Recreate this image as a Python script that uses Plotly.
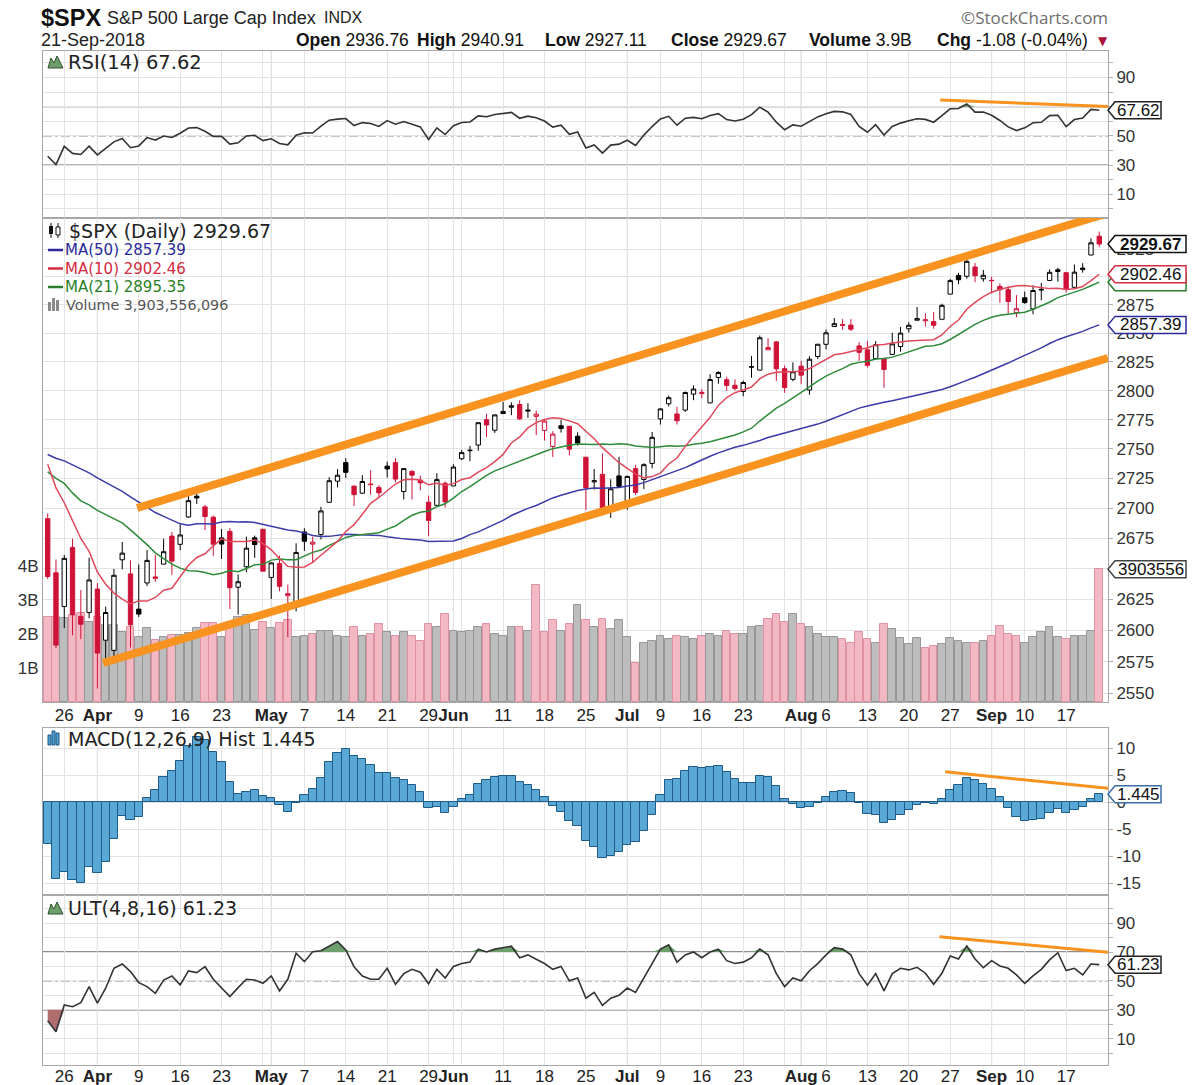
import numpy as np
import pandas as pd
import plotly.graph_objects as go

# ---------------------------------------------------------------- data
holidays = ["2018-03-30", "2018-05-28", "2018-07-04", "2018-09-03"]
dates = [d for d in pd.bdate_range("2018-03-22", "2018-09-21")
         if d.strftime("%Y-%m-%d") not in holidays]

# closes before the visible window (used only for the moving averages / RSI / MACD)
pre_closes = [
    2695.81, 2713.06, 2723.99, 2743.15, 2747.71, 2751.29, 2748.23, 2767.56, 2786.24, 2776.42,
    2802.56, 2798.03, 2810.30, 2832.97, 2839.13, 2837.54, 2839.25, 2872.87, 2853.53, 2822.43,
    2823.81,
    2821.98, 2762.13, 2648.94, 2695.14, 2681.66, 2581.00, 2619.55, 2656.00, 2662.94, 2698.63,
    2731.20, 2732.22, 2716.26, 2701.33, 2703.96, 2747.30, 2779.60, 2744.28, 2713.83,
    2677.67, 2691.25, 2720.94, 2728.12, 2726.80, 2738.97, 2786.57, 2783.02, 2765.31, 2749.48,
    2747.33, 2752.01, 2712.92, 2716.94, 2711.93]

opens = [
    2691.36, 2646.71, 2619.35, 2667.57, 2611.30, 2614.41,
    2633.45, 2592.17, 2584.04, 2657.36, 2645.82, 2617.18, 2638.41, 2643.36, 2653.83, 2676.90,
    2670.10, 2692.74, 2710.11, 2701.16, 2692.56, 2675.40, 2680.80, 2634.92, 2651.65, 2675.47, 2682.51,
    2642.96, 2654.24, 2628.08, 2621.45, 2680.34, 2670.26, 2678.12, 2705.02, 2722.70, 2738.47,
    2718.59, 2712.62, 2719.71, 2717.35, 2735.39, 2738.34, 2713.98, 2730.94, 2723.60, 2705.11,
    2702.43, 2720.98,
    2718.70, 2741.67, 2748.46, 2753.25, 2774.84, 2765.84, 2780.18, 2785.60, 2787.94, 2783.21,
    2777.78, 2765.79, 2752.01, 2769.73, 2769.28, 2760.79, 2742.94, 2722.12, 2728.45, 2698.69, 2727.13,
    2704.95, 2733.27, 2724.19, 2737.68, 2775.62, 2788.56, 2779.82, 2783.14, 2796.93, 2797.36,
    2789.34, 2811.35, 2809.37, 2804.55, 2799.17, 2820.68, 2817.73, 2835.49, 2842.35, 2819.00, 2809.73,
    2821.17, 2800.48, 2829.62, 2840.29, 2855.92, 2856.79, 2857.19, 2838.90, 2835.46, 2827.88,
    2827.95, 2831.44, 2838.32, 2853.93, 2861.51, 2860.99, 2860.29, 2862.35, 2884.69, 2901.45,
    2900.62, 2908.94, 2898.37,
    2896.96, 2891.59, 2888.64, 2868.26, 2881.39, 2871.57, 2888.29, 2896.85, 2906.38, 2903.83,
    2890.74, 2906.60, 2919.73, 2936.76]
highs = [
    2695.68, 2657.67, 2661.36, 2674.78, 2632.65, 2659.07,
    2638.30, 2619.14, 2649.86, 2672.08, 2656.88, 2653.55, 2665.45, 2661.43, 2674.72, 2680.26,
    2686.49, 2713.34, 2717.49, 2702.84, 2693.94, 2682.86, 2683.55, 2645.30, 2676.48, 2677.35, 2682.87,
    2655.27, 2660.87, 2637.14, 2670.93, 2683.35, 2676.34, 2701.27, 2726.11, 2732.86, 2742.10,
    2718.59, 2727.76, 2731.96, 2719.50, 2739.19, 2742.24, 2733.33, 2731.97, 2727.36, 2710.67,
    2729.34, 2722.50,
    2736.93, 2749.16, 2752.61, 2772.39, 2779.90, 2779.39, 2790.21, 2789.80, 2791.47, 2789.06,
    2782.81, 2774.99, 2765.05, 2774.86, 2769.28, 2764.17, 2742.94, 2732.91, 2746.09, 2724.34, 2743.26,
    2727.26, 2736.58, 2737.83, 2764.41, 2784.65, 2795.58, 2785.91, 2799.22, 2804.53, 2801.19,
    2814.19, 2816.76, 2812.05, 2809.70, 2808.61, 2829.99, 2848.03, 2845.57, 2843.17, 2821.74, 2824.46,
    2825.83, 2829.91, 2840.38, 2853.29, 2863.43, 2862.44, 2862.48, 2842.20, 2843.40, 2843.11,
    2827.95, 2850.49, 2855.63, 2859.76, 2873.23, 2867.54, 2868.78, 2876.16, 2898.25, 2903.77,
    2916.50, 2912.46, 2906.32,
    2900.18, 2894.21, 2892.05, 2883.81, 2886.93, 2892.52, 2894.65, 2906.76, 2908.30, 2904.65,
    2911.17, 2912.36, 2934.80, 2940.91]
lows = [
    2641.59, 2585.89, 2601.81, 2596.12, 2593.06, 2609.72,
    2553.80, 2574.49, 2573.61, 2649.58, 2586.27, 2610.79, 2635.78, 2639.25, 2653.83, 2645.05,
    2665.16, 2692.05, 2703.63, 2681.90, 2660.61, 2657.99, 2617.32, 2612.67, 2647.16, 2659.01, 2648.04,
    2625.41, 2631.70, 2594.62, 2615.32, 2664.70, 2655.20, 2674.14, 2704.54, 2717.45, 2725.47,
    2701.91, 2712.17, 2711.36, 2709.18, 2725.70, 2721.88, 2707.38, 2707.38, 2714.99, 2676.81,
    2702.43, 2700.68,
    2718.70, 2740.54, 2739.51, 2748.46, 2760.16, 2763.59, 2780.17, 2778.78, 2774.65, 2776.52,
    2761.73, 2757.12, 2743.19, 2763.91, 2744.39, 2752.68, 2698.67, 2715.60, 2699.38, 2691.99, 2718.03,
    2698.95, 2711.16, 2716.02, 2733.52, 2770.73, 2786.24, 2770.77, 2781.53, 2791.69, 2793.39,
    2789.24, 2805.89, 2799.77, 2800.01, 2795.14, 2811.12, 2817.73, 2835.26, 2808.34, 2798.11, 2808.06,
    2805.85, 2796.34, 2827.37, 2835.98, 2855.92, 2853.09, 2851.98, 2825.81, 2819.88, 2826.58,
    2802.49, 2831.44, 2833.73, 2850.62, 2861.32, 2856.05, 2854.03, 2862.35, 2884.69, 2893.50,
    2898.40, 2895.22, 2895.77,
    2885.13, 2876.92, 2867.29, 2864.12, 2875.94, 2866.78, 2879.20, 2896.39, 2895.77, 2886.16,
    2890.43, 2903.82, 2919.73, 2927.11]
closes = [
    2643.69, 2588.26, 2658.55, 2612.62, 2605.00, 2640.87,
    2581.88, 2614.45, 2644.69, 2662.84, 2604.47, 2613.16, 2656.87, 2642.19, 2663.99, 2656.30,
    2677.84, 2706.39, 2708.64, 2693.13, 2670.14, 2670.29, 2634.56, 2639.40, 2666.94, 2669.91, 2648.05,
    2654.80, 2635.67, 2629.73, 2663.42, 2672.63, 2671.92, 2697.79, 2723.07, 2727.72, 2730.13,
    2711.45, 2722.46, 2720.13, 2712.97, 2733.01, 2724.44, 2733.29, 2727.76, 2721.33, 2689.86,
    2724.01, 2705.27,
    2734.62, 2746.87, 2748.80, 2772.35, 2770.37, 2779.03, 2782.00, 2786.85, 2775.63, 2782.49,
    2779.66, 2773.75, 2762.59, 2767.32, 2749.76, 2754.88, 2717.07, 2723.06, 2699.63, 2716.31, 2718.37,
    2726.71, 2713.22, 2736.61, 2759.82, 2784.17, 2793.84, 2774.02, 2798.29, 2801.31, 2798.43,
    2809.55, 2815.62, 2804.49, 2801.83, 2806.98, 2820.40, 2846.07, 2837.44, 2818.82, 2802.60, 2816.29,
    2813.36, 2827.22, 2840.35, 2850.40, 2858.45, 2857.70, 2853.58, 2833.28, 2821.93, 2839.96,
    2818.37, 2840.69, 2850.13, 2857.05, 2862.96, 2861.82, 2856.98, 2874.69, 2896.74, 2897.52,
    2914.04, 2901.13, 2901.52,
    2896.72, 2888.60, 2878.05, 2871.68, 2877.13, 2887.89, 2888.92, 2904.18, 2904.98, 2888.80,
    2904.31, 2907.95, 2930.75, 2929.67]

volume_b = [
    2.51, 2.50, 2.46, 2.56, 2.61, 2.36, 2.51, 2.26, 2.26, 2.07, 2.21, 1.92, 2.17, 1.82, 1.92,
    1.97, 1.97, 2.02, 2.17, 2.31, 2.31, 1.92, 2.36, 2.51, 2.56, 2.12, 2.36, 2.17, 2.31, 2.41, 1.92,
    1.95, 2.0, 2.1, 2.1, 1.95, 1.9, 2.2, 1.95, 2.0, 2.3, 2.05, 1.95, 2.05, 1.95, 1.8, 2.3, 2.2,
    2.6, 2.1, 2.05, 2.1, 2.2, 2.3, 2.0, 1.95, 2.2, 2.2, 2.1, 3.45, 2.05, 2.4, 2.1, 2.3, 2.85,
    2.4, 2.2, 2.45, 2.15, 2.4, 1.9, 1.15, 1.75, 1.8, 1.95, 1.85, 1.95, 1.9, 1.85, 1.95, 2.0,
    1.95, 2.1, 2.0, 2.0, 2.2, 2.25, 2.45, 2.6, 2.35, 2.6, 2.3, 2.2, 2.0, 1.9, 1.9, 1.85, 1.75,
    2.05, 1.85, 1.75, 2.3, 2.15,
    1.87, 1.71, 1.89, 1.58, 1.65, 1.70, 1.89, 1.79, 1.74, 1.74, 1.79, 1.95, 2.24, 2.00, 1.95,
    1.74, 1.90, 2.05, 2.20, 1.90, 1.84, 1.94, 1.94, 2.10, 3.9036]

ult = [
    22.4, 14.8, 33.3, 32.1, 34.9, 46.0, 34.5, 44.9, 58.7, 61.7, 56.4, 48.8, 46.0, 41.4, 50.6,
    53.4, 47.2, 56.9, 55.7, 59.8, 51.1, 44.9, 39.1, 45.3, 51.1, 50.6, 48.3, 53.4, 43.0, 51.1,
    69.1, 63.3, 70.2, 70.9, 74.2, 77.2, 71.4, 59.8, 53.4, 51.1, 51.1, 58.7, 47.6,
    55, 58, 56, 48, 58, 52, 60, 62, 63, 72, 70, 72, 73, 74, 66, 68, 65, 62, 58, 60, 50, 52,
    38, 42, 33, 38, 40, 45, 42, 52, 62, 72, 75, 63, 68, 70, 66, 70, 72, 64, 62, 63, 66, 72,
    68, 55, 46, 52, 50, 57, 62, 68, 73, 72, 68, 55, 47, 55, 43, 55,
    58.7, 57.6, 59.4, 55.3, 47.6, 55.3, 67.3, 65.2, 74.2, 65.2, 59.1, 64.0, 60.3, 58.7, 54.1,
    48.3, 53.4, 58.0, 64.5, 69.5, 57.1, 58.7, 54.1, 61.7, 61.23]

# hand-drawn trend lines (index position, value)
chan_upper_x, chan_upper_y = [10.8, 128.05], [2700.2, 2957.8]
chan_lower_x, chan_lower_y = [6.68, 128.05], [2574.0, 2828.3]
rsi_trend_x, rsi_trend_y = [107.8, 128.05], [74.6, 70.2]
macd_trend_x, macd_trend_y = [108.4, 128.05], [5.6, 2.55]
ult_trend_x, ult_trend_y = [107.7, 128.05], [80.6, 69.8]

price_ticks = [2550, 2575, 2600, 2625, 2650, 2675, 2700, 2725, 2750, 2775, 2800, 2825, 2850,
               2875, 2900, 2925]
price_ticktext = ["2550", "2575", "2600", "2625", "", "2675", "2700", "2725", "2750", "2775",
                  "2800", "2825", "2850", "2875", "", "2925"]
vol_ticks = [1e9, 2e9, 3e9, 4e9]
vol_ticktext = ["1B", "2B", "3B", "4B"]
osc_ticks = [0, 10, 20, 30, 40, 50, 60, 70, 80, 90, 100]
rsi_ticktext = ["", "10", "", "30", "", "50", "", "", "", "90", ""]
ult_ticktext = ["", "10", "", "30", "", "50", "", "70", "", "90", ""]
macd_ticks = [-15, -10, -5, 0, 5, 10]

N = len(dates)
for arr in (opens, highs, lows, closes, volume_b, ult):
    assert len(arr) == N, (len(arr), N)

# ---------------------------------------------------------------- indicators
allc = pd.Series(pre_closes + closes, dtype=float)
ma50 = allc.rolling(50).mean().values[-N:]
ma10 = allc.rolling(10).mean().values[-N:]
ma21 = allc.rolling(21).mean().values[-N:]

ch = np.diff(allc.values)
ag = np.clip(ch[:14], 0, None).mean()
al = np.clip(-ch[:14], 0, None).mean()
rsi_all = [np.nan] * 14 + [100 - 100 / (1 + ag / al)]
for c in ch[14:]:
    ag = (ag * 13 + max(c, 0)) / 14
    al = (al * 13 + max(-c, 0)) / 14
    rsi_all.append(100 - 100 / (1 + ag / al))
rsi = np.array(rsi_all)[-N:]

ema12 = allc.ewm(span=12, adjust=False).mean()
ema26 = allc.ewm(span=26, adjust=False).mean()
macd = ema12 - ema26
sig = macd.ewm(span=9, adjust=False).mean()
hist = (macd - sig).values[-N:]

# ---------------------------------------------------------------- helpers
W, H = 1200, 1085
LPX, RPX = 43, 1108


def PX(x):
    return (x - LPX) / (RPX - LPX)


def PY(y):
    return 1 - y / H


ARIAL = "Arial, Liberation Sans, sans-serif"
VERD = "DejaVu Sans, Verdana, sans-serif"
GRID = "#e3e3e3"
MONTHGRID = "#c6c6c6"
BORDER = "#a8a8a8"
RED = "#cf1238"
ORANGE = "#f7931e"

X = np.arange(N)
prev = np.array([pre_closes[-1]] + closes[:-1])
C = np.array(closes)
O = np.array(opens)
Hh = np.array(highs)
Ll = np.array(lows)
up = C >= prev

fig = go.Figure()

# ---- price panel: volume (base axis y2), then price (overlay y3)
vol = np.array(volume_b) * 1e9
fig.add_trace(go.Bar(
    x=X, y=vol, xaxis="x2", yaxis="y2", width=0.92,
    marker=dict(color=np.where(up, "#bdbdbd", "#f2b8c3"),
                line=dict(color=np.where(up, "#979797", "#e291a1"), width=1)),
    hoverinfo="skip"))

fig.add_trace(go.Scatter(x=X, y=ma50, xaxis="x2", yaxis="y3", mode="lines",
                         line=dict(color="#3a3aa8", width=1.5), hoverinfo="skip"))
fig.add_trace(go.Scatter(x=X, y=ma21, xaxis="x2", yaxis="y3", mode="lines",
                         line=dict(color="#2e8b3a", width=1.5), hoverinfo="skip"))
fig.add_trace(go.Scatter(x=X, y=ma10, xaxis="x2", yaxis="y3", mode="lines",
                         line=dict(color="#e0485c", width=1.5), hoverinfo="skip"))

for mask, col in ((up, "black"), (~up, RED)):
    fig.add_trace(go.Candlestick(
        x=X[mask], open=O[mask], high=Hh[mask], low=Ll[mask], close=C[mask],
        xaxis="x2", yaxis="y3", whiskerwidth=0,
        increasing=dict(line=dict(color=col, width=1), fillcolor="white"),
        decreasing=dict(line=dict(color=col, width=1), fillcolor=col),
        hoverinfo="skip"))

for tx, ty in ((chan_upper_x, chan_upper_y), (chan_lower_x, chan_lower_y)):
    fig.add_trace(go.Scatter(x=tx, y=ty, xaxis="x2", yaxis="y3", mode="lines",
                             line=dict(color=ORANGE, width=8), hoverinfo="skip"))


# ---- oscillator helper
def oscillator(vals, xa, ya, trend_x, trend_y):
    vals = np.asarray(vals, dtype=float)
    fig.add_trace(go.Scatter(x=X, y=[70] * N, xaxis=xa, yaxis=ya, mode="lines",
                             line=dict(width=0), hoverinfo="skip"))
    fig.add_trace(go.Scatter(x=X, y=np.maximum(vals, 70), xaxis=xa, yaxis=ya, mode="lines",
                             line=dict(width=0), fill="tonexty", fillcolor="#6d9f6d",
                             hoverinfo="skip"))
    fig.add_trace(go.Scatter(x=X, y=[30] * N, xaxis=xa, yaxis=ya, mode="lines",
                             line=dict(width=0), hoverinfo="skip"))
    fig.add_trace(go.Scatter(x=X, y=np.minimum(vals, 30), xaxis=xa, yaxis=ya, mode="lines",
                             line=dict(width=0), fill="tonexty", fillcolor="#b06d6d",
                             hoverinfo="skip"))
    fig.add_trace(go.Scatter(x=X, y=vals, xaxis=xa, yaxis=ya, mode="lines",
                             line=dict(color="#333333", width=1.6), hoverinfo="skip"))
    fig.add_trace(go.Scatter(x=trend_x, y=trend_y, xaxis=xa, yaxis=ya, mode="lines",
                             line=dict(color=ORANGE, width=3), hoverinfo="skip"))


oscillator(rsi, "x", "y", rsi_trend_x, rsi_trend_y)
oscillator(ult, "x4", "y5", ult_trend_x, ult_trend_y)

# ---- MACD histogram
fig.add_trace(go.Bar(x=X, y=hist, xaxis="x3", yaxis="y4", width=1.0,
                     marker=dict(color="#5aa8d5", line=dict(color="#1e5b87", width=1)),
                     hoverinfo="skip"))
fig.add_trace(go.Scatter(x=macd_trend_x, y=macd_trend_y, xaxis="x3", yaxis="y4", mode="lines",
                         line=dict(color=ORANGE, width=3), hoverinfo="skip"))

# ---------------------------------------------------------------- axes
wk = [i for i in range(1, N) if dates[i].isocalendar()[1] != dates[i - 1].isocalendar()[1]]
mo = [i for i in range(1, N) if dates[i].month != dates[i - 1].month]
tv = sorted(set(wk) | set(mo))
tt = []
for i in tv:
    if i in mo:
        tt.append("<b>%s</b>" % dates[i].strftime("%b"))
    elif any(abs(i - m) <= 2 for m in mo):
        tt.append("")
    else:
        tt.append(str(dates[i].day))

XR = [(LPX - 47.7) / 8.28, (RPX - 47.7) / 8.28]
tickfont = dict(family=ARIAL, size=17, color="#333333")


def xax(anchor, labels, standoff=0):
    return dict(range=XR, anchor=anchor, showgrid=True, gridcolor=GRID, gridwidth=1,
                tickmode="array", tickvals=tv, ticktext=tt, showticklabels=labels,
                tickangle=0, automargin=False, ticklabelstandoff=standoff,
                tickfont=dict(family=ARIAL, size=17, color="#222222"), ticks="",
                zeroline=False, showline=True, linecolor=BORDER, linewidth=1, mirror=True,
                fixedrange=True, rangeslider=dict(visible=False))


def yax(dom, rng, anchor, tvals, ttext=None, side="right"):
    d = dict(domain=dom, range=rng, anchor=anchor, side=side, showgrid=True, gridcolor=GRID,
             tickmode="array", tickvals=tvals, tickfont=tickfont, ticks="outside", ticklen=4,
             tickcolor="#b0b0b0", zeroline=False, showline=True, linecolor=BORDER,
             linewidth=1, mirror=True, fixedrange=True, automargin=False)
    if ttext is not None:
        d["ticktext"] = ttext
    return d


rsi_dom = [PY(218), PY(51)]
price_dom = [PY(702), PY(218)]
macd_dom = [PY(895), PY(728)]
ult_dom = [PY(1065), PY(895)]

plo = 2550 * np.exp(-(702 - 693.3) / 3237)
phi = 2550 * np.exp((693.3 - 218) / 3237)

layout = dict(
    width=W, height=H, margin=dict(l=LPX, r=W - RPX, t=0, b=0, autoexpand=False),
    paper_bgcolor="white", plot_bgcolor="white", showlegend=False,
    boxgap=0.25, bargap=0,
    xaxis=xax("y", False),
    xaxis2=xax("y2", True, -2),
    xaxis3=xax("y4", False),
    xaxis4=xax("y5", True, -4),
    yaxis=yax(rsi_dom, [-6.3, 108.2], "x", osc_ticks, rsi_ticktext),
    yaxis2=dict(domain=price_dom, range=[0, 484 / 34.0 * 1e9], anchor="x2", side="left",
                showgrid=False, tickmode="array", tickvals=vol_ticks, ticktext=vol_ticktext,
                tickfont=tickfont, ticks="", zeroline=False, showline=True, linecolor=BORDER,
                mirror=True, fixedrange=True, automargin=False),
    yaxis3=dict(overlaying="y2", anchor="x2", side="right", type="log",
                range=[np.log10(plo), np.log10(phi)], showgrid=True, gridcolor=GRID,
                tickmode="array", tickvals=price_ticks, ticktext=price_ticktext,
                tickfont=tickfont, ticks="outside", ticklen=4, tickcolor="#b0b0b0",
                zeroline=False, showline=True, linecolor=BORDER, fixedrange=True,
                automargin=False),
    yaxis4=yax(macd_dom, [-17.2, 13.7], "x3", macd_ticks, [str(v) for v in macd_ticks]),
    yaxis5=yax(ult_dom, [-8.3, 109.5], "x4", osc_ticks, ult_ticktext),
)
fig.update_layout(**layout)

# ---------------------------------------------------------------- shapes
shapes = []
for xr, yr in (("x", "y"), ("x2", "y2"), ("x3", "y4"), ("x4", "y5")):
    for m in mo:
        shapes.append(dict(type="line", xref=xr, yref=yr + " domain", x0=m, x1=m, y0=0, y1=1,
                           line=dict(color=MONTHGRID, width=1), layer="below"))

for yr in ("y", "y5"):
    for lev in (30, 70):
        shapes.append(dict(type="line", xref="x domain" if yr == "y" else "x4 domain", yref=yr,
                           x0=0, x1=1, y0=lev, y1=lev,
                           line=dict(color="#6a6a6a", width=1.3), layer="below"))
    shapes.append(dict(type="line", xref="x domain" if yr == "y" else "x4 domain", yref=yr,
                       x0=0, x1=1, y0=50, y1=50,
                       line=dict(color="#8a8a8a", width=1.3, dash="dashdot"), layer="below"))


def rect_px(x0, y0, x1, y1, fill, line="rgba(0,0,0,0)", lw=0):
    shapes.append(dict(type="rect", xref="paper", yref="paper", x0=PX(x0), x1=PX(x1),
                       y0=PY(y1), y1=PY(y0), fillcolor=fill, line=dict(color=line, width=lw),
                       layer="above"))


def line_px(x0, y0, x1, y1, color, width):
    shapes.append(dict(type="line", xref="paper", yref="paper", x0=PX(x0), x1=PX(x1),
                       y0=PY(y0), y1=PY(y1), line=dict(color=color, width=width), layer="above"))


def poly_px(pts, fill, line):
    path = "M " + " L ".join("%.5f,%.5f" % (PX(a), PY(b)) for a, b in pts) + " Z"
    shapes.append(dict(type="path", xref="paper", yref="paper", path=path, fillcolor=fill,
                       line=dict(color=line, width=1), layer="above"))


# legend icons
poly_px([(48, 68), (51, 58), (54, 63), (57, 56), (60, 62), (63, 68)], "#6d9f6d", "#2f4f2f")
poly_px([(48, 914), (51, 904), (54, 909), (57, 902), (60, 908), (63, 914)], "#6d9f6d", "#2f4f2f")
line_px(51, 223, 51, 238, "#111", 1)
rect_px(49, 226, 53, 234, "#111")
line_px(58, 223, 58, 238, "#111", 1)
rect_px(56, 227, 60, 235, "white", "#111", 1)
for (a, b, top) in ((48, 51, 735), (52, 55, 731), (56, 59, 733)):
    rect_px(a, top, b, 745, "#4f9fd0", "#1e5b87", 1)
for (a, b, top) in ((48, 51, 302), (52, 55, 298), (56, 59, 300)):
    rect_px(a, top, b, 311, "#8a8a8a")
for yy, col in ((250, "#2a2a9a"), (268.5, "#d62a40"), (287, "#2a7d2a")):
    line_px(48, yy, 63, yy, col, 2.5)

# ---------------------------------------------------------------- annotations
ann = []


def text_px(x, y, text, size, color="#111", family=ARIAL, anchor="left"):
    ann.append(dict(xref="paper", yref="paper", x=PX(x), y=PY(y), text=text, showarrow=False,
                    xanchor=anchor, yanchor="middle", font=dict(family=family, size=size,
                                                                color=color)))


text_px(39, 18, "<b>$SPX</b>", 23.5)
text_px(105, 18, "S&P 500 Large Cap Index", 18, "#222")
text_px(322, 18, "INDX", 16, "#222")
text_px(1110, 18, "©StockCharts.com", 17, "#6d6d6d", "Open Sans, sans-serif", "right")
text_px(39, 40, "21-Sep-2018", 18, "#222")
for xx, lab, val in ((294, "Open", "2936.76"), (415, "High", "2940.91"), (543, "Low", "2927.11"),
                     (669, "Close", "2929.67"), (807, "Volume", "3.9B"),
                     (935, "Chg", "-1.08 (-0.04%)")):
    text_px(xx, 40, "<b>%s</b> %s" % (lab, val), 17.5, "#111")
text_px(1096, 41, "▼", 12, "#a8123c", VERD)

text_px(66, 62, "RSI(14) 67.62", 19.5, "#222", VERD)
text_px(67, 231, "$SPX (Daily) 2929.67", 19, "#222", VERD)
text_px(63, 250, "MA(50) 2857.39", 15, "#2a2a9a", VERD)
text_px(63, 268.5, "MA(10) 2902.46", 15, "#d62a40", VERD)
text_px(63, 287, "MA(21) 2895.35", 15, "#2a7d2a", VERD)
text_px(64, 305, "Volume 3,903,556,096", 14.3, "#555555", VERD)
text_px(66, 739, "MACD(12,26,9) Hist 1.445", 19, "#222", VERD)
text_px(66, 908, "ULT(4,8,16) 61.23", 19, "#222", VERD)


def value_box(yref, yval, text, color, w, bold=False, show_text=True, ann_y=None):
    h = 8.5
    shapes.append(dict(type="path", xref="paper", yref=yref, xsizemode="pixel",
                       ysizemode="pixel", xanchor=1.0, yanchor=yval,
                       path="M0,0 L7,%g L%g,%g L%g,%g L7,%g Z" % (h, 7 + w, h, 7 + w, -h, -h),
                       fillcolor="white", line=dict(color=color, width=1.5), layer="above"))
    if show_text:
        ann.append(dict(xref="paper", yref=yref, x=PX(RPX + 7 + w / 2),
                        y=yval if ann_y is None else ann_y,
                        text=("<b>%s</b>" % text) if bold else text, showarrow=False,
                        xanchor="center", yanchor="middle",
                        font=dict(family=ARIAL, size=17, color="#111")))


value_box("y", 67.62, "67.62", "#222", 46)
value_box("y3", 2857.39, "2857.39", "#2a2a9a", 71, ann_y=np.log10(2857.39))
value_box("y3", 2895.35, "2895.35", "#2a7d2a", 71, show_text=False)
value_box("y3", 2902.46, "2902.46", "#d62a40", 71, ann_y=np.log10(2902.46))
value_box("y3", 2929.67, "2929.67", "#111", 71, bold=True, ann_y=np.log10(2929.67))
value_box("y2", 3.9036e9, "3903556", "#444", 71)
value_box("y4", 1.445, "1.445", "#3a6ea5", 46)
value_box("y5", 61.23, "61.23", "#222", 46)

fig.update_layout(shapes=shapes, annotations=ann)

fig.write_html("out.html", config={"displayModeBar": False},
               post_script="document.body.style.margin='0';")
